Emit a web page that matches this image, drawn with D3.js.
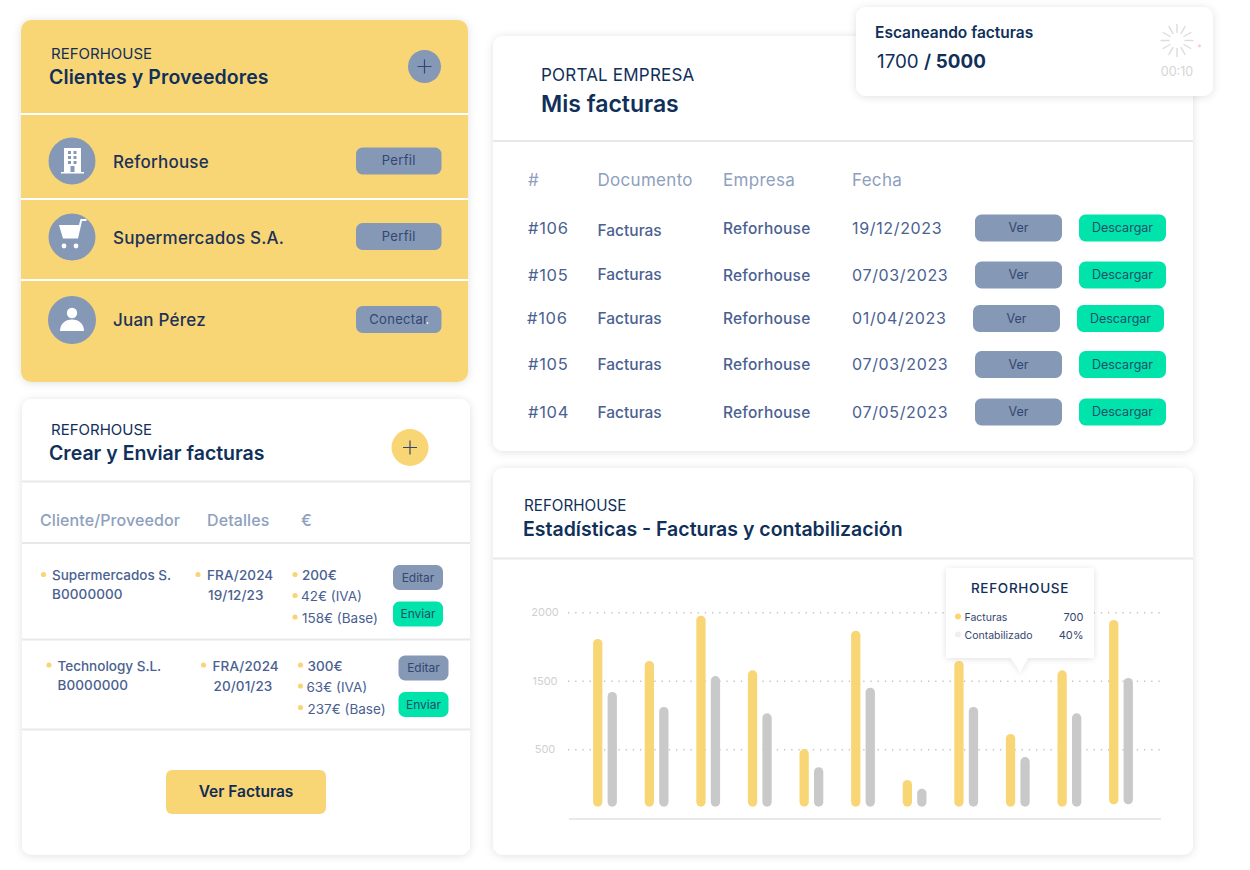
<!DOCTYPE html>
<html lang="es"><head><meta charset="utf-8"><title>Facturas</title>
<script src="https://cdnjs.cloudflare.com/ajax/libs/d3/7.8.5/d3.min.js"></script>
<style>html,body{margin:0;padding:0;background:#fff}svg{display:block}text{font-family:Inter,Lato,sans-serif}</style>
</head><body><svg id="c" width="1250" height="870"></svg>
<script>
// ---- data ----
const categories = ["1","2","3","4","5","6","7","8","9","10","11"];
const facturas = [1805,1644,1975,1576,503,1865,233,1644,723,1576,1944];
const contabilizado = [1335,1117,1534,1025,344,1397,157,1117,432,1025,1520];
const barBase = [0,0,0,0,0,0,0,0,0,0,21];
const yTicks = [2000,1500,500];
const clientes = ["Reforhouse","Supermercados S.A.","Juan Pérez"];
const clienteAccion = ["Perfil","Perfil","Conectar"];
const crearHead = ["Cliente/Proveedor","Detalles","€"];
const crearNombre = ["Supermercados S.","Technology S.L."];
const crearNif = ["B0000000","B0000000"];
const crearFra = ["FRA/2024","FRA/2024"];
const crearFecha = ["19/12/23","20/01/23"];
const crearImportes = [["200€","42€ (IVA)","158€ (Base)"],["300€","63€ (IVA)","237€ (Base)"]];
const factHead = ["#","Documento","Empresa","Fecha"];
const factNum = ["#106","#105","#106","#105","#104"];
const factDoc = ["Facturas","Facturas","Facturas","Facturas","Facturas"];
const factEmp = ["Reforhouse","Reforhouse","Reforhouse","Reforhouse","Reforhouse"];
const factFecha = ["19/12/2023","07/03/2023","01/04/2023","07/03/2023","07/05/2023"];

// ---- palette ----
const YEL="#f9d675",BLU="#8598b6",GRN="#00e3aa",GRY="#c9c9c9",NAVY="#10305a",MID="#4a6191",HEAD="#8ea0be",BTN="#33476f",BTG="#1f4e6b",LINE="#e8e8e8";
const svg=d3.select("#c");
const defs=svg.append("defs");
const f=defs.append("filter").attr("id","sh").attr("x","-10%").attr("y","-10%").attr("width","120%").attr("height","120%");
f.append("feDropShadow").attr("dx",0).attr("dy",1).attr("stdDeviation",4).attr("flood-color","#000").attr("flood-opacity",.12);
const f2=defs.append("filter").attr("id","sh2").attr("x","-20%").attr("y","-20%").attr("width","140%").attr("height","140%");
f2.append("feDropShadow").attr("dx",0).attr("dy",1).attr("stdDeviation",3).attr("flood-color","#000").attr("flood-opacity",.12);

function T(x,y,s,o={}){return svg.append("text").attr("x",x).attr("y",y).text(s)
  .attr("font-size",o.size||14).attr("font-weight",o.w||400).attr("fill",o.c||NAVY)
  .attr("text-anchor",o.a||"start").attr("letter-spacing",o.ls||0);}
function card(x,y,w,h,fill="#fff"){svg.append("rect").attr("x",x).attr("y",y).attr("width",w).attr("height",h).attr("rx",10).attr("fill",fill).attr("filter","url(#sh)");}
function hr(x1,x2,y,c=LINE){svg.append("line").attr("x1",x1).attr("x2",x2).attr("y1",y).attr("y2",y).attr("stroke",c).attr("stroke-width",2);}
function btn(x,y,w,h,label,fill,tc,size=12.5,ls=0){svg.append("rect").attr("x",x).attr("y",y).attr("width",w).attr("height",h).attr("rx",6.5).attr("fill",fill);
  T(x+w/2,y+h/2+4,label,{size,c:tc,a:"middle",ls});}
function plus(cx,cy,r,fill){svg.append("circle").attr("cx",cx).attr("cy",cy).attr("r",r).attr("fill",fill);
  svg.append("path").attr("d",`M${cx-7} ${cy}H${cx+7}M${cx} ${cy-7}V${cy+7}`).attr("stroke",BTN).attr("stroke-width",1.2);}
function dot(x,y){svg.append("circle").attr("cx",x).attr("cy",y).attr("r",2.6).attr("fill",YEL);}

// ---- card: clientes ----
card(21,20,447,362,YEL);
T(51,59,"REFORHOUSE",{size:15,c:NAVY});
T(49,84,"Clientes y Proveedores",{size:19.5,w:600,ls:.1});
plus(424.5,66.5,16.5,BLU);
[114,199,280].forEach(y=>hr(21,468,y,"#fff"));
const rowY=[161,237,320],btnY=[147.5,223,306];
clientes.forEach((n,i)=>{
  svg.append("circle").attr("cx",72).attr("cy",rowY[i]).attr("r",i==2?24:23.5).attr("fill",BLU);
  T(113,rowY[i]+(i==2?6:7),n,{size:17,w:500,c:"#1c3258",ls:.22});
  btn(356,btnY[i],85.5,27,clienteAccion[i],BLU,BTN,13,.3);
});
const g0=svg.append("g").attr("fill","#fff");
// building
g0.append("path").attr("fill-rule","evenodd").attr("d","M64 148h17v24h3v1.500H61V172h3zM68 151v3h3v-3zM73.500 151v3h3v-3zM68 156v3h3v-3zM73.500 156v3h3v-3zM68 161v3h3v-3zM73.500 161v3h3v-3zM70.500 166v6h4v-6z");
// cart
g0.append("path").attr("d","M59 225h20l1.500-6h6v2h-4.500l-4 17.500H63z");
g0.append("circle").attr("cx",64).attr("cy",246).attr("r",2.4);
g0.append("circle").attr("cx",76).attr("cy",246).attr("r",2.4);
// person
g0.append("circle").attr("cx",72).attr("cy",313).attr("r",5.2);
g0.append("path").attr("d","M60 331c0-7 5-11.500 12-11.500s12 4.500 12 11.500z");
svg.append("circle").attr("cx",427.5).attr("cy",323).attr("r",1).attr("fill","#fde8e8");

// ---- card: crear ----
card(22,399,448,456);
T(51,435,"REFORHOUSE",{size:15});
T(49,460,"Crear y Enviar facturas",{size:19.5,w:600});
plus(410,447.5,18.5,YEL);
[481.5,543,639.5,729.5].forEach(y=>hr(22,470,y));
[40,207,301].forEach((x,i)=>T(x,526,crearHead[i],{size:16,w:500,c:HEAD,ls:.1}));
const rOff=[{dx:0,dy:0},{dx:5.500,dy:90.500}];
crearNombre.forEach((n,i)=>{
  const {dx,dy}=rOff[i];
  const c={size:13.5,w:500,c:MID};
  dot(43.5+dx,575+dy-.5);dot(198+dx,575+dy-.5);
  T(52+dx,580+dy,n,c);T(52+dx,599+dy,crearNif[i],{...c,ls:.1});
  T(207+dx,580+dy,crearFra[i],{...c,ls:.1});T(208+dx,600+dy,crearFecha[i],{...c,ls:.1});
  crearImportes[i].forEach((s,j)=>{
    dot(295+dx,[574.5,595.5,617][j]+dy);
    T(302+dx-(j==1?1:0),[580,601,623][j]+dy,s,{size:13.5,w:j==0?500:400,c:MID});
  });
  btn(393+dx,565+dy,50,25,"Editar",BLU,BTN,12);
  btn(393+dx,601.5+dy,50,25,"Enviar",GRN,BTG,12);
});
svg.append("rect").attr("x",166).attr("y",770).attr("width",160).attr("height",44).attr("rx",6).attr("fill",YEL);
T(246,797,"Ver Facturas",{size:15.5,w:600,a:"middle",c:"#0f2c55"});

// ---- card: facturas ----
card(493,36,700,415);
T(541,81,"PORTAL EMPRESA",{size:17,ls:.2});
T(541,112,"Mis facturas",{size:23,w:600});
hr(493,1193,141);
[528,597.5,723,852].forEach((x,i)=>T(x,186,factHead[i],{size:17,w:400,c:HEAD,ls:.3}));
const fY=[234,280.5,324,370,417.500],fDocY=[235.5,279.5,324,370,417.500],fBtn=[214.5,261.5,305,351,398.5],fDx=[0,0,-2,0,0];
factNum.forEach((n,i)=>{
  const c={size:16.5,c:MID,ls:.7};
  T(528+(i==2?-1:0),fY[i],n,c);
  T(597.5,fDocY[i],factDoc[i],{size:15.5,w:500,c:MID});
  T(723,fY[i],factEmp[i],{size:15.5,w:500,c:MID,ls:.2});
  T(852,fY[i],factFecha[i],{size:16,c:MID,ls:.65});
  btn(975+fDx[i],fBtn[i],87,27,"Ver",BLU,BTN,12.5);
  btn(1079+fDx[i],fBtn[i],87,27,"Descargar",GRN,BTG,12.5);
});

// ---- card: estadisticas ----
card(493,468,700,387);
T(524,511,"REFORHOUSE",{size:15.2});
T(523,536,"Estadísticas - Facturas y contabilización",{size:19.5,w:600});
hr(493,1193,558.5);

const x=d3.scalePoint().domain(categories).range([605,1121]);
const y=d3.scaleLinear().domain([0,500,1500,2000]).range([806.7,749.3,680.7,612.3]);
const barW=9.3,off=7.25;
const axis=svg.append("g").attr("transform","translate(568,0)").call(
  d3.axisLeft(y).tickValues(yTicks).tickSize(-594).tickPadding(0).tickFormat(d3.format("d")));
axis.select(".domain").remove();
axis.selectAll("line").attr("stroke","#c4c4c4").attr("stroke-width",1.4).attr("stroke-dasharray","1.3 5.9");
axis.selectAll("text").attr("x",-23).attr("text-anchor","middle").attr("fill","#d0d0d0").attr("font-size",11).attr("font-family","Inter,Lato,sans-serif");
svg.append("line").attr("x1",569).attr("x2",1161).attr("y1",819).attr("y2",819).attr("stroke","#e2e2e2").attr("stroke-width",1.6);
function bars(vals,dx,fill,cls){
  svg.selectAll("rect."+cls).data(vals).join("rect").attr("class",cls)
    .attr("x",(d,i)=>x(categories[i])+dx-barW/2).attr("width",barW)
    .attr("y",d=>y(d)).attr("height",(d,i)=>y(barBase[i])-y(d))
    .attr("rx",4.6).attr("fill",fill);
}
bars(facturas,-off,YEL,"fact");
bars(contabilizado,off,GRY,"cont");

// tooltip
svg.append("path").attr("d","M949 568H1091a3 3 0 0 1 3 3V655a3 3 0 0 1-3 3H1028L1020 672L1011 658H949a3 3 0 0 1-3-3V571a3 3 0 0 1 3-3z").attr("fill","#fff").attr("filter","url(#sh2)");
T(1020,593,"REFORHOUSE",{size:13.5,w:500,a:"middle",ls:.7});
svg.append("circle").attr("cx",958).attr("cy",616.5).attr("r",3).attr("fill",YEL);
svg.append("circle").attr("cx",958).attr("cy",634.5).attr("r",3).attr("fill","#ecf0f5");
T(964.5,621,"Facturas",{size:10.5,c:BTN});T(964.5,638.5,"Contabilizado",{size:10.5,c:BTN});
T(1083.5,621,"700",{size:11,c:BTN,a:"end"});T(1083.5,639,"40%",{size:11,c:BTN,a:"end"});

// ---- notification ----
card(856,7,357,89);
T(875,37.5,"Escaneando facturas",{size:15.5,w:600});
const t=T(877,67.5,"",{size:18.8});
t.append("tspan").text("1700 ");t.append("tspan").attr("font-weight",600).text("/ ");t.append("tspan").attr("font-weight",700).text("5000");
const sp=svg.append("g").attr("transform","translate(1177,40.500)").attr("stroke","#dcdcdc").attr("stroke-width",1.4);
d3.range(12).forEach(i=>{const a=i*Math.PI/6;sp.append("line").attr("x1",7.500*Math.cos(a)).attr("y1",7.500*Math.sin(a)).attr("x2",16.500*Math.cos(a)).attr("y2",16.500*Math.sin(a));});
T(1177,76,"00:10",{size:12.5,c:"#d5d5d5",a:"middle"});
svg.append("circle").attr("cx",1199.5).attr("cy",46).attr("r",1.4).attr("fill","#f8c9c9");
</script></body></html>
